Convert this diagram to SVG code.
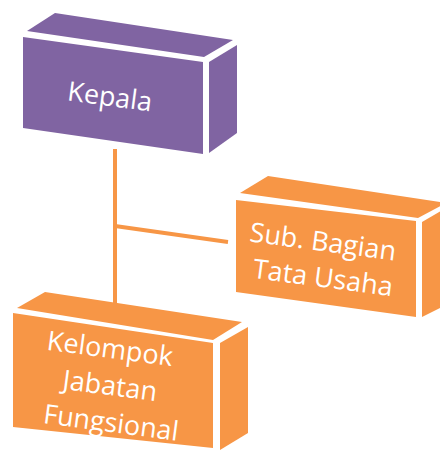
<svg xmlns="http://www.w3.org/2000/svg" width="440" height="451" viewBox="0 0 440 451">
<style>
.purple{fill:#8064A2}
.orange{fill:#F79646}
.lbl{font-family:"Open Sans","Liberation Sans",sans-serif;font-size:27px;fill:#FFFFFF;text-anchor:middle}
.conn{stroke:#F79646;stroke-width:4;fill:none}
</style>
<rect width="440" height="451" fill="#FFFFFF"/>
<g id="connectors">
<line class="conn" x1="115" y1="149" x2="115" y2="303"/>
<line class="conn" x1="115" y1="226" x2="228" y2="242"/>
</g>
<g id="kepala">
<polygon class="purple" points="27,31 55,13 233,40 204,57"/>
<polygon class="purple" points="23,37 203,62 203,154 23,128"/>
<polygon class="purple" points="209,62 237,45 237,133 209,153"/>
<text class="lbl" x="110" y="106" transform="rotate(7.5 110 96)">Kepala</text>
</g>
<g id="subbagian">
<polygon class="orange" points="240,193 268,176 446,203 418,218"/>
<polygon class="orange" points="236,200 416,221 416,317 236,292"/>
<polygon class="orange" points="422,222 446,208 446,305 422,317"/>
<text class="lbl" x="323" y="251" transform="rotate(7.5 323 242)">Sub. Bagian</text>
<text class="lbl" x="323" y="287" transform="rotate(7.5 323 278)">Tata Usaha</text>
</g>
<g id="kelompok">
<polygon class="orange" points="17,308 45,292 242,322 213,340"/>
<polygon class="orange" points="13,313 213,343 213,448 13,427"/>
<polygon class="orange" points="220,343 248,327 248,433 220,450"/>
<text class="lbl" x="110" y="358" transform="rotate(7.5 110 349)">Kelompok</text>
<text class="lbl" x="110" y="395" transform="rotate(7.5 110 386)">Jabatan</text>
<text class="lbl" x="111" y="432" transform="rotate(7.5 111 423)">Fungsional</text>
</g>
</svg>
